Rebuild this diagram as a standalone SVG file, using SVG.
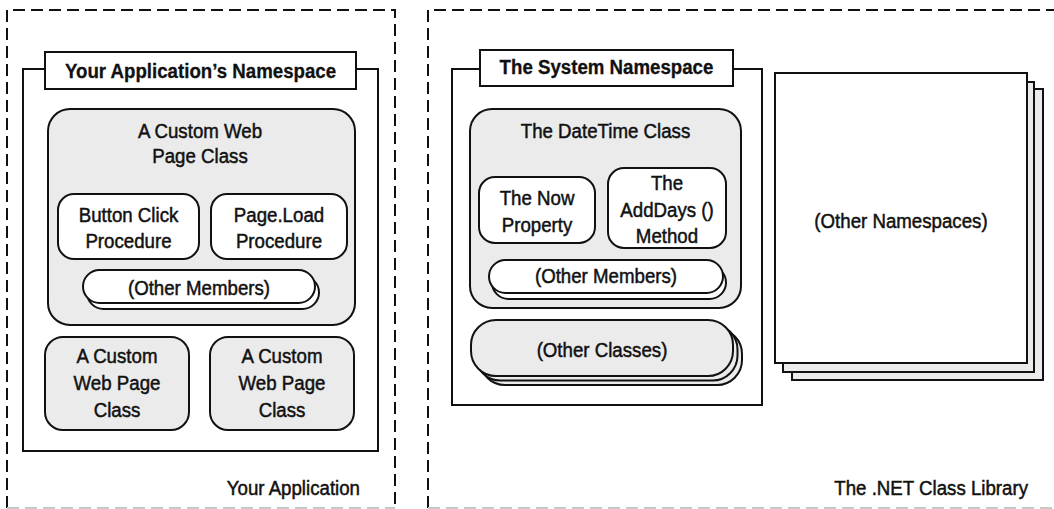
<svg xmlns="http://www.w3.org/2000/svg" width="1054" height="509" viewBox="0 0 1054 509">
<style>
text{font-family:"Liberation Sans",Arial,sans-serif;font-size:21px;fill:#111;stroke:#111;stroke-width:0.5;text-anchor:middle;transform-box:fill-box;transform-origin:center;transform:scaleX(0.89)}
.b{font-weight:bold;stroke-width:0.3}
.r{text-anchor:end;transform-origin:right center}
.dash{fill:none;stroke:#111;stroke-width:2;stroke-dasharray:12 6}
.dashb{fill:none;stroke:#c8c8c8;stroke-width:2;stroke-dasharray:12 6}
.frame{fill:#fff;stroke:#111;stroke-width:2}
.g{fill:#ebebeb;stroke:#111;stroke-width:2}
.w{fill:#fff;stroke:#111;stroke-width:2}
</style>
<rect width="1054" height="509" fill="#fff"/>
<g id="your-application">
<path class="dash" d="M7,508 V10 H395 V508"/>
<line class="dashb" x1="7" y1="508" x2="395" y2="508"/>
<text class="r" x="360" y="495">Your Application</text>
</g>
<g id="net-class-library">
<path class="dash" d="M428,508 V10 H1054"/>
<line class="dashb" x1="428" y1="508" x2="1054" y2="508"/>
<text class="r" x="1028" y="495">The .NET Class Library</text>
</g>
<g id="app-namespace">
<rect class="frame" x="23" y="69" width="355" height="382"/>
<rect class="frame" x="45" y="52" width="311" height="37"/>
<text class="b" x="200.5" y="78">Your Application’s Namespace</text>
</g>
<g id="custom-page-class">
<rect class="g" x="48" y="109" width="307" height="216" rx="22"/>
<text x="200" y="138">A Custom Web</text>
<text x="200" y="163">Page Class</text>
</g>
<g id="button-click">
<rect class="w" x="58" y="194" width="141" height="65" rx="16"/>
<text x="128.5" y="222">Button Click</text>
<text x="128.5" y="248">Procedure</text>
</g>
<g id="page-load">
<rect class="w" x="211" y="194" width="136" height="65" rx="16"/>
<text x="279" y="222">Page.Load</text>
<text x="279" y="248">Procedure</text>
</g>
<g id="other-members-1">
<rect class="w" x="87" y="276" width="232" height="33" rx="16.5"/>
<rect class="w" x="83" y="270" width="232" height="33" rx="16.5"/>
<text x="199" y="295">(Other Members)</text>
</g>
<g id="custom-class-2">
<rect class="g" x="45" y="337" width="144" height="93" rx="18"/>
<text x="117" y="363">A Custom</text>
<text x="117" y="390">Web Page</text>
<text x="117" y="417">Class</text>
</g>
<g id="custom-class-3">
<rect class="g" x="210" y="337" width="144" height="93" rx="18"/>
<text x="282" y="363">A Custom</text>
<text x="282" y="390">Web Page</text>
<text x="282" y="417">Class</text>
</g>
<g id="system-namespace">
<rect class="frame" x="452" y="69" width="310" height="336"/>
<rect class="frame" x="480" y="50" width="253" height="36"/>
<text class="b" x="606.5" y="74">The System Namespace</text>
</g>
<g id="datetime-class">
<rect class="g" x="470" y="109" width="271" height="199" rx="22"/>
<text x="605.5" y="138">The DateTime Class</text>
</g>
<g id="now-property">
<rect class="w" x="479" y="177" width="116" height="66" rx="16"/>
<text x="537" y="205">The Now</text>
<text x="537" y="232">Property</text>
</g>
<g id="adddays-method">
<rect class="w" x="608" y="168" width="118" height="80" rx="16"/>
<text x="667" y="190">The</text>
<text x="667" y="217">AddDays ()</text>
<text x="667" y="243">Method</text>
</g>
<g id="other-members-2">
<rect class="w" x="492" y="266" width="234" height="33" rx="16.5"/>
<rect class="w" x="489" y="260" width="234" height="33" rx="16.5"/>
<text x="606" y="283">(Other Members)</text>
</g>
<g id="other-classes">
<rect class="g" x="480" y="329" width="262" height="56" rx="25"/>
<rect class="g" x="475.5" y="324.5" width="262" height="56" rx="25"/>
<rect class="g" x="471" y="320" width="262" height="56" rx="25"/>
<text x="602" y="357">(Other Classes)</text>
</g>
<g id="other-namespaces">
<rect class="g" x="792" y="89" width="251" height="291"/>
<rect class="g" x="783" y="82" width="251" height="290"/>
<rect class="w" x="775" y="73" width="252" height="290"/>
<text x="901" y="228">(Other Namespaces)</text>
</g>
<g id="connectors"></g>
</svg>
